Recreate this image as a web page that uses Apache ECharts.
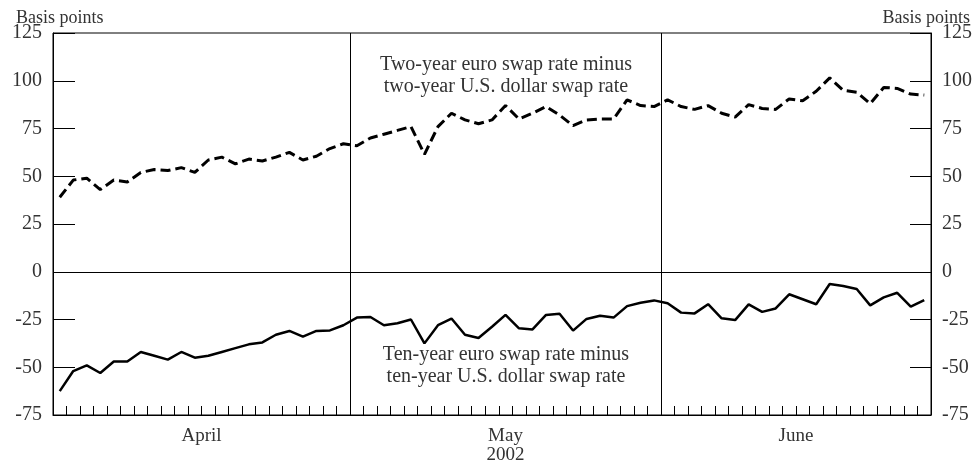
<!DOCTYPE html>
<html>
<head>
<meta charset="utf-8">
<script src="https://cdn.jsdelivr.net/npm/echarts@6/dist/echarts.min.js"></script>
<style>
html,body{margin:0;padding:0;background:#fff;}
#chart{width:977px;height:467px;}
</style>
</head>
<body>
<div id="chart"></div>
<script>
// ---- data ----
const year = 2002;
const monthNames = ['April', 'May', 'June'];
const monthBusinessDays = [22, 23, 20];
const yTickMin = -75, yTickMax = 125, yTickStep = 25;
const axisTitle = 'Basis points';
const twoYearLabel = 'Two-year euro swap rate minus\ntwo-year U.S. dollar swap rate';
const tenYearLabel = 'Ten-year euro swap rate minus\nten-year U.S. dollar swap rate';

// Two-year euro minus two-year US dollar swap rate (basis points), daily
const twoYear = [
  39, 48, 49, 43, 48, 47, 52, 53.5, 53, 54.5, 52,
  58.5, 60, 56.5, 59, 58, 60, 62.5, 58.5, 60.5, 64.5, 67,
  66, 70, 72, 74, 76, 61.5, 76, 83, 79.5, 77.5, 79.5,
  87, 80, 83, 86.5, 82, 76.5, 79.5, 80, 80, 90, 87, 86.5,
  90, 86.5, 85, 87, 83, 81, 87.5, 85.5, 85, 90.5,
  89.5, 94.5, 101.5, 95, 94, 88, 96.5, 96, 93, 92.5
];
// Ten-year euro minus ten-year US dollar swap rate (basis points), daily
const tenYear = [
  -62.5, -52, -49, -53, -47, -47, -42, -44, -46, -42, -45,
  -44, -42, -40, -38, -37, -33, -31, -34, -31, -30.7, -28,
  -24, -23.7, -28, -27, -25, -37.5, -28, -24.5, -33, -34.7, -28.8,
  -22.6, -29.6, -30.2, -22.6, -22, -30.8, -24.7, -23, -24, -18, -16.2, -15,
  -16.5, -21.4, -21.8, -17, -24.4, -25.3, -17.1, -21, -19.2, -11.8,
  -14.4, -17, -6.4, -7.5, -9, -17.6, -13.4, -11, -18.3, -14.8
];

// business-day categories
const categories = [];
(function () {
  const d = new Date(Date.UTC(year, 3, 1));
  const end = new Date(Date.UTC(year, 5, 30));
  while (d <= end) {
    const wd = d.getUTCDay();
    if (wd !== 0 && wd !== 6) categories.push(d.toISOString().slice(0, 10));
    d.setUTCDate(d.getUTCDate() + 1);
  }
})();

const cum = [];
monthBusinessDays.reduce((a, b) => { cum.push(a + b); return a + b; }, 0);
const monthMid = monthBusinessDays.map((n, i) => (cum[i] - n) + n / 2);
const monthBoundaries = cum.slice(0, -1);
const total = cum[cum.length - 1];

const FONT = '"Liberation Serif", "Times New Roman", serif';
const TXT = '#333';

const chart = echarts.init(document.getElementById('chart'), null, { renderer: 'canvas' });

chart.setOption({
  animation: false,
  backgroundColor: '#fff',
  grid: { left: 53, right: 46, top: 33, bottom: 52, show: true, borderColor: '#000', borderWidth: 1, backgroundColor: 'transparent' },
  title: [
    { text: axisTitle, left: 11, top: 4, textStyle: { fontFamily: FONT, fontSize: 18, fontWeight: 'normal', color: TXT } },
    { text: axisTitle, right: 2, top: 4, textStyle: { fontFamily: FONT, fontSize: 18, fontWeight: 'normal', color: TXT } }
  ],
  xAxis: [
    {
      type: 'category', data: categories, boundaryGap: true, position: 'bottom',
      axisLine: { onZero: false, lineStyle: { color: '#000', width: 1 } },
      axisTick: { show: true, inside: true, length: 9, interval: 0, lineStyle: { color: '#000', width: 1 } },
      axisLabel: { show: false },
      splitLine: { show: false }
    },
    {
      type: 'value', min: 0, max: total, position: 'bottom',
      axisLine: { show: false }, axisTick: { show: false }, splitLine: { show: false },
      axisLabel: {
        show: true, margin: 12, customValues: monthMid,
        fontFamily: FONT, fontSize: 19, color: TXT, lineHeight: 19,
        formatter: function (v) {
          const i = monthMid.indexOf(v);
          if (i < 0) return '';
          return i === 1 ? monthNames[i] + '\n' + year : monthNames[i];
        }
      }
    }
  ],
  yAxis: [
    {
      type: 'value', position: 'left', min: yTickMin, max: yTickMax, interval: yTickStep,
      axisLine: { show: true, onZero: false, lineStyle: { color: '#000', width: 1 } },
      axisTick: { show: true, inside: true, length: 22, lineStyle: { color: '#000', width: 1 } },
      axisLabel: { margin: 11, fontFamily: FONT, fontSize: 20, color: TXT },
      splitLine: { show: false }
    },
    {
      type: 'value', position: 'right', min: yTickMin, max: yTickMax, interval: yTickStep,
      axisLine: { show: true, onZero: false, lineStyle: { color: '#000', width: 1 } },
      axisTick: { show: true, inside: true, length: 21, lineStyle: { color: '#000', width: 1 } },
      axisLabel: { margin: 11, fontFamily: FONT, fontSize: 20, color: TXT },
      splitLine: { show: false }
    }
  ],
  series: [
    {
      name: 'Two-year', type: 'line', xAxisIndex: 0, yAxisIndex: 0, data: twoYear,
      symbol: 'none', smooth: false,
      lineStyle: { color: '#000', width: 3, type: [10, 5] },
      markLine: {
        silent: true, symbol: ['none', 'none'], label: { show: false },
        lineStyle: { color: '#000', width: 1, type: 'solid' },
        data: [{ yAxis: 0 }]
      }
    },
    {
      name: 'Ten-year', type: 'line', xAxisIndex: 0, yAxisIndex: 0, data: tenYear,
      symbol: 'none', smooth: false,
      lineStyle: { color: '#000', width: 2.5, type: 'solid' }
    },
    {
      name: 'months', type: 'line', xAxisIndex: 1, yAxisIndex: 0, data: [],
      symbol: 'none',
      markLine: {
        silent: true, symbol: ['none', 'none'], label: { show: false },
        lineStyle: { color: '#000', width: 1, type: 'solid' },
        data: monthBoundaries.map(b => ({ xAxis: b }))
      }
    }
  ],
  graphic: [
    { type: 'text', z: 10,
      style: { text: twoYearLabel, fill: TXT, font: '20px ' + FONT, textAlign: 'center', lineHeight: 22 },
      position: [506, 54] },
    { type: 'text', z: 10,
      style: { text: tenYearLabel, fill: TXT, font: '20px ' + FONT, textAlign: 'center', lineHeight: 22 },
      position: [506, 344] }
  ]
});
</script>
</body>
</html>
